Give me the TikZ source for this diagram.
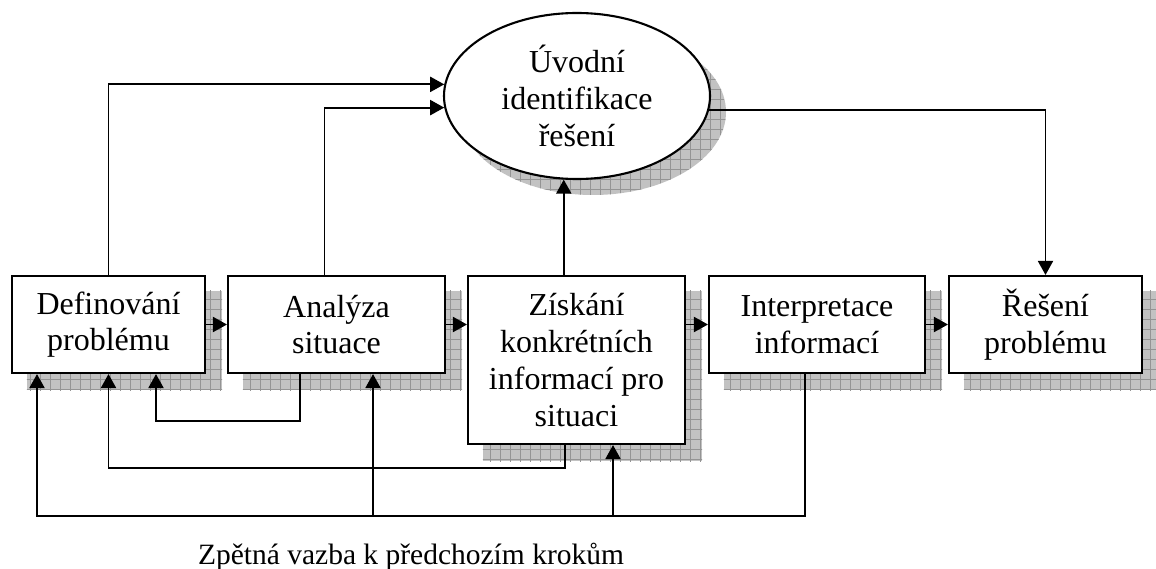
\documentclass[tikz,border=0pt]{standalone}
\usepackage{fontspec}
\setmainfont{Liberation Serif}
\usetikzlibrary{arrows.meta,calc,patterns.meta,backgrounds,shapes.geometric}

\tikzset{
  x=1pt, y=-1pt,
  every node/.style={font=\fontsize{32}{36.7}\selectfont},
  stepbox/.style={draw, line width=2.1pt, fill=white, rectangle, inner sep=0pt,
                  align=center, minimum height=97pt},
  ovalbox/.style={draw, line width=2.1pt, fill=white, ellipse, inner sep=0pt,
                  align=center, minimum width=266pt, minimum height=166pt},
  link/.style={line width=1.9pt, -{Triangle[length=14pt,width=15pt]}},
  caption/.style={font=\fontsize{29.5}{34}\selectfont},
  shadowfill/.style={fill=black!24},
  shadowgridh/.style={pattern={Lines[angle=0,distance=10pt,line width=0.7pt]}, pattern color=black!42},
  shadowgridv/.style={pattern={Lines[angle=90,distance=10pt,line width=0.7pt]}, pattern color=black!42},
}

% grey grid shadow under a rectangular node, offset down and right
\newcommand{\boxshade}[1]{%
  \begin{scope}[on background layer]
    \fill[shadowfill] ($(#1.north west)+(16,16)$) rectangle ($(#1.south east)+(16,16)$);
    \fill[shadowgridh] ($(#1.north west)+(16,16)$) rectangle ($(#1.south east)+(16,16)$);
    \fill[shadowgridv] ($(#1.north west)+(16,16)$) rectangle ($(#1.south east)+(16,16)$);
  \end{scope}}

\begin{document}
\begin{tikzpicture}
\useasboundingbox (0,0) rectangle (1156,569);

% main process steps
\node[stepbox, minimum width=193pt] (def) at (108.5,324.5) {Definování\\problému};
\node[stepbox, minimum width=217pt] (ana) at (336.5,324.5) {Analýza\\situace};
\node[stepbox, minimum width=217pt, minimum height=168pt] (zis) at (576.5,360) {Získání\\konkrétních\\informací pro\\situaci};
\node[stepbox, minimum width=216pt] (int) at (817,324.5) {Interpretace\\informací};
\node[stepbox, minimum width=193pt] (res) at (1045.5,324.5) {Řešení\\problému};
\node[ovalbox] (uvo) at (577,96) {Úvodní\\identifikace\\řešení};

% shadows
\boxshade{def}
\boxshade{ana}
\boxshade{zis}
\boxshade{int}
\boxshade{res}
\begin{scope}[on background layer]
  \fill[shadowfill] ($(uvo.center)+(16,16)$) ellipse [x radius=133pt, y radius=83pt];
  \fill[shadowgridh] ($(uvo.center)+(16,16)$) ellipse [x radius=133pt, y radius=83pt];
  \fill[shadowgridv] ($(uvo.center)+(16,16)$) ellipse [x radius=133pt, y radius=83pt];
\end{scope}

% forward flow
\draw[link] (def.east) -- (ana.west);
\draw[link] (ana.east) -- (ana.east -| zis.west);
\draw[link] (int.west -| zis.east) -- (int.west);
\draw[link] (int.east) -- (res.west);

% towards and from the initial identification
\draw[link] (def.north) |- (uvo.175);
\coordinate (anaTop) at ($(ana.north)+(-12,0)$);
\draw[link] (anaTop) |- (uvo.185);
\coordinate (zisTop) at (uvo.261.7 |- zis.north);
\draw[link] (zisTop) -- (uvo.261.7);
\draw[link] (uvo.354) -| (res.north);

% feedback to previous steps
\coordinate (anaB) at ($(ana.south)+(-36.5,0)$);
\coordinate (defB1) at ($(def.south)+(47.5,0)$);
\draw[link] (anaB) -- (anaB |- 0,421) -| (defB1);

\coordinate (zisB) at ($(zis.south)+(-11.5,0)$);
\draw[link] (zisB) -- (zisB |- 0,468) -| (def.south);

\coordinate (intB) at ($(int.south)+(-12,0)$);
\coordinate (defB0) at ($(def.south)+(-71.5,0)$);
\draw[link] (intB) -- (intB |- 0,516) -| (defB0);
\coordinate (anaB2) at ($(ana.south)+(36.5,0)$);
\coordinate (zisB2) at ($(zis.south)+(36.5,0)$);
\draw[link] (anaB2 |- 0,516) -- (anaB2);
\draw[link] (zisB2 |- 0,516) -- (zisB2);

\node[caption, anchor=base] (fb) at (411,564) {Zpětná vazba k předchozím krokům};
\end{tikzpicture}
\end{document}
